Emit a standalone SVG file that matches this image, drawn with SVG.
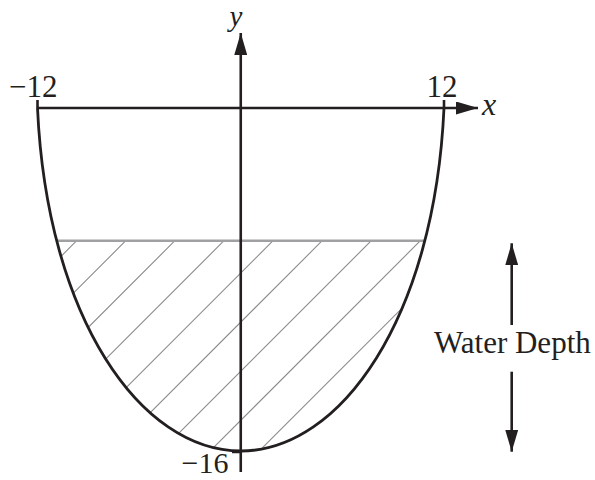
<svg xmlns="http://www.w3.org/2000/svg" width="595" height="480" viewBox="0 0 595 480">
<style>
.ax{stroke:#231f20;stroke-width:2.6;fill:none}
.bowl{stroke:#231f20;stroke-width:2.8;fill:none}
.water{stroke:#a0a0a2;stroke-width:2.4;fill:none}
.hatch{stroke:#8c8c8e;stroke-width:1.1;fill:none}
.lbl{font-family:"Liberation Serif","Times New Roman",serif;font-size:31px;fill:#231f20}
.var{font-style:italic;font-size:32px}
</style>
<defs>
<marker id="arrow" viewBox="0 0 22 13" refX="22" refY="6.5" markerWidth="22" markerHeight="13" markerUnits="userSpaceOnUse" orient="auto">
<path d="M0,0 L22,6.5 L0,13 Z" fill="#231f20"/>
</marker>
<clipPath id="bowlClip">
<path d="M37.5,108 C47,318 140.75,451 240.75,451 C340.75,451 434.5,318 444,108 Z"/>
</clipPath>
</defs>
<g id="hatching" clip-path="url(#bowlClip)">
<path class="hatch" d="M76.7,240.7 L-162.6,480 M125.8,240.7 L-113.5,480 M174.9,240.7 L-64.4,480 M224,240.7 L-15.3,480 M273.1,240.7 L33.8,480 M322.2,240.7 L82.9,480 M371.3,240.7 L132,480 M420.4,240.7 L181.1,480 M469.5,240.7 L230.2,480 M518.6,240.7 L279.3,480"/>
</g>
<g id="water-line"><path class="water" d="M56.5,240.7 H425"/></g>
<g id="bowl">
<path class="bowl" d="M37.5,108 C47,318 140.75,451 240.75,451 C340.75,451 434.5,318 444,108"/>
</g>
<g id="connectors">
<path class="ax" d="M37.5,108 H478" marker-end="url(#arrow)"/>
<path class="ax" d="M240.75,472 V33" marker-end="url(#arrow)"/>
<path class="ax" d="M37.5,100 V108 M444,100 V108 M232,452 H241"/>
<path class="ax" d="M511.7,325 V243.3" marker-end="url(#arrow)"/>
<path class="ax" d="M511.7,371.7 V451.7" marker-end="url(#arrow)"/>
</g>
<g id="labels">
<text class="lbl" x="9" y="97">−12</text>
<text class="lbl" x="426.5" y="97">12</text>
<text class="lbl var" x="482" y="115">x</text>
<text class="lbl var" x="229.5" y="26" style="font-size:29px">y</text>
<text class="lbl" x="181.5" y="473" style="font-size:30px">−16</text>
<text class="lbl" x="434" y="353">Water Depth</text>
</g>
</svg>
